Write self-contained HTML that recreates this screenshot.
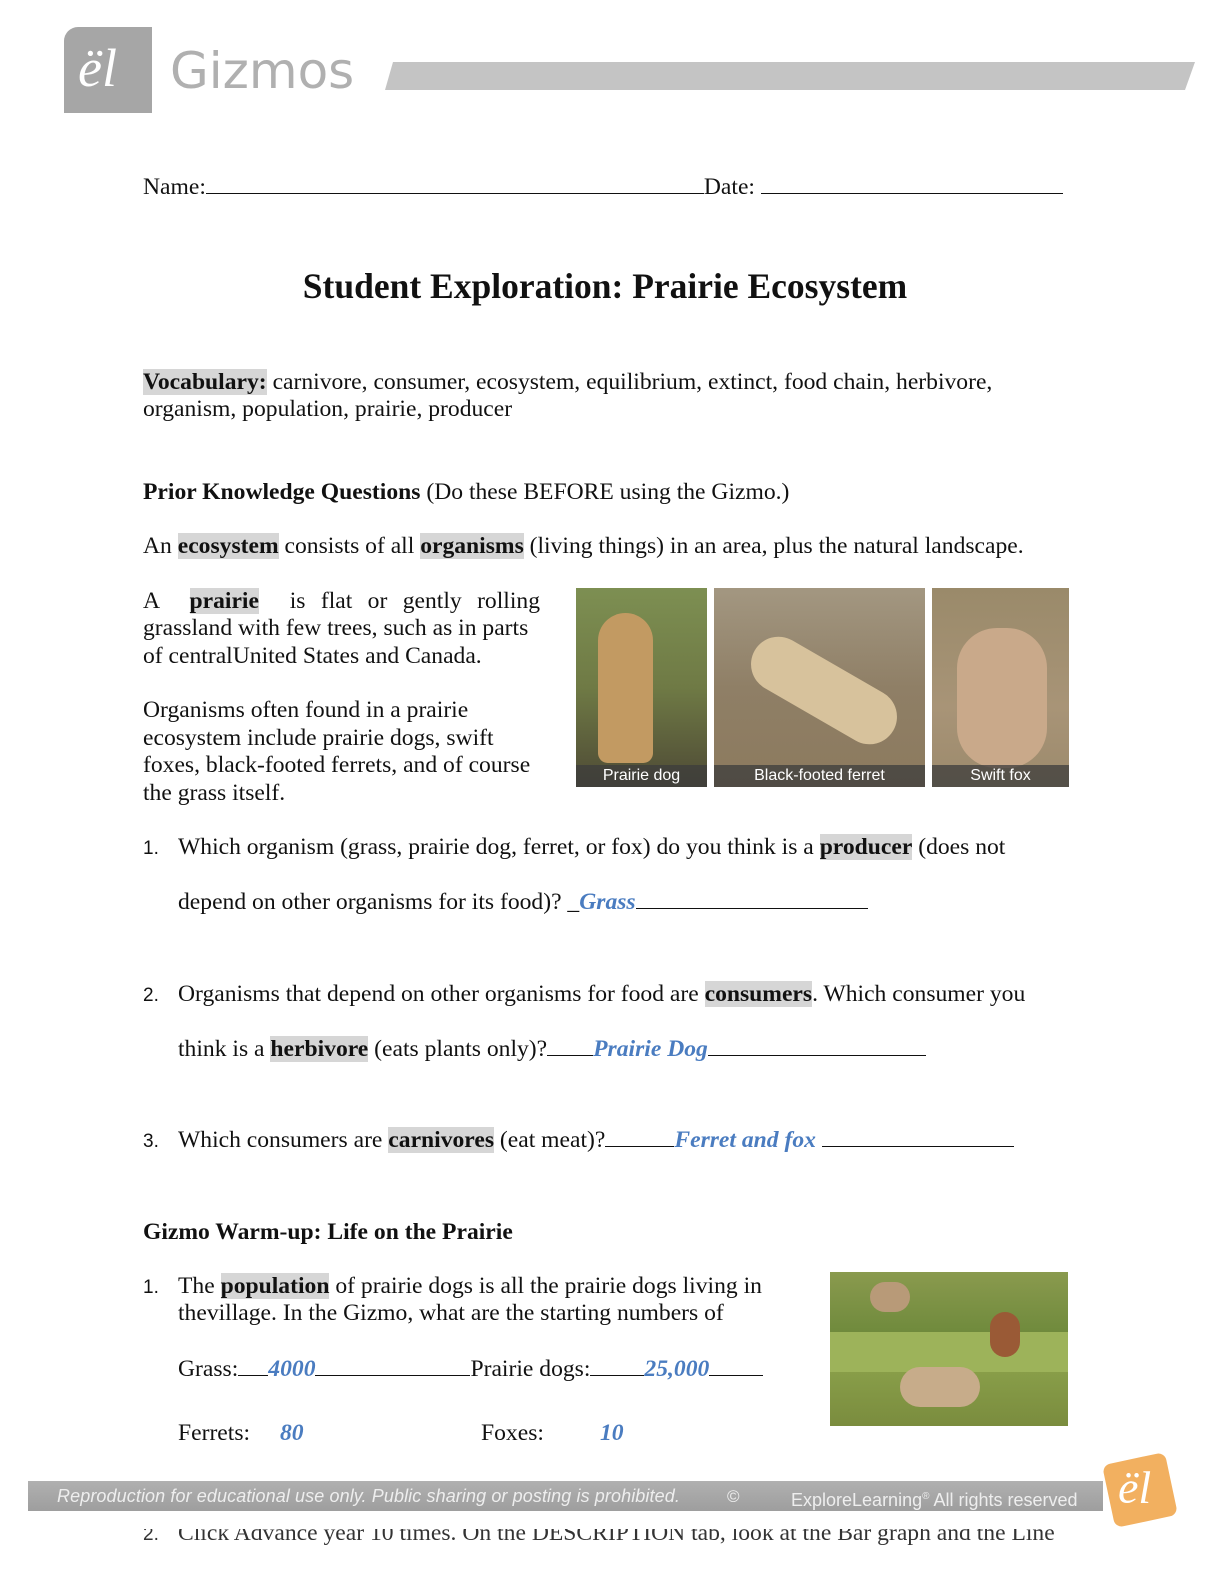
<!DOCTYPE html>
<html><head><meta charset="utf-8"><style>
body{margin:0;width:1224px;height:1584px;position:relative;background:#fff;font-family:"Liberation Serif",serif;font-size:23.6px;color:#111;overflow:hidden}
.t{position:absolute;white-space:nowrap;line-height:27px}
.h{background:#d6d6d6;font-weight:bold}
.a{color:#4a7cc0;font-style:italic;font-weight:bold}
.num{display:inline-block;width:35px;font-family:"Liberation Sans",sans-serif;font-size:19px}
.ph{position:absolute;overflow:hidden}
.cap{position:absolute;left:0;right:0;bottom:0;height:22px;background:rgba(60,60,60,.75);color:#fff;font-family:"Liberation Sans",sans-serif;font-size:16px;text-align:center;line-height:22px}
.ln{display:inline-block;border-bottom:1.5px solid #111;height:18px}
</style></head><body>
<div style="position:absolute;left:64px;top:27px;width:88px;height:86px;background:#a6a6a6;border-top-left-radius:14px"></div>
<div style="position:absolute;left:78px;top:38px;color:#fff;font-family:'Liberation Serif',serif;font-style:italic;font-size:54px;line-height:60px">ël</div>
<div style="position:absolute;left:170px;top:38px;color:#b0b0b0;font-family:'DejaVu Sans',sans-serif;font-size:50px;line-height:66px">Gizmos</div>
<svg style="position:absolute;left:385px;top:60px" width="812" height="32"><polygon points="8,2 810,2 800,30 0,30" fill="#c4c4c4"/></svg>

<div class="t" style="left:143px;top:173px">Name:<span class="ln" style="width:498px;height:20px"></span>Date: <span class="ln" style="width:302px;height:20px"></span></div>

<div class="t" style="left:0;width:1210px;text-align:center;top:266px;font-size:35.5px;font-weight:bold;line-height:40px">Student Exploration: Prairie Ecosystem</div>

<div class="t" style="left:143px;top:369px"><span class="h">Vocabulary:</span> carnivore, consumer, ecosystem, equilibrium, extinct, food chain, herbivore,</div>
<div class="t" style="left:143px;top:396px">organism, population, prairie, producer</div>

<div class="t" style="left:143px;top:479px"><b>Prior Knowledge Questions</b> (Do these BEFORE using the Gizmo.)</div>
<div class="t" style="left:143px;top:533px">An <span class="h">ecosystem</span> consists of all <span class="h">organisms</span> (living things) in an area, plus the natural landscape.</div>

<div class="t" style="left:143px;top:588px;width:397px;text-align:justify;text-align-last:justify">A &nbsp;<span class="h">prairie</span> &nbsp;is flat or gently rolling</div>
<div class="t" style="left:143px;top:615px">grassland with few trees, such as in parts</div>
<div class="t" style="left:143px;top:643px">of centralUnited States and Canada.</div>
<div class="t" style="left:143px;top:697px">Organisms often found in a prairie</div>
<div class="t" style="left:143px;top:725px">ecosystem include prairie dogs, swift</div>
<div class="t" style="left:143px;top:752px">foxes, black-footed ferrets, and of course</div>
<div class="t" style="left:143px;top:780px">the grass itself.</div>

<div class="ph" style="left:576px;top:588px;width:131px;height:199px;background:linear-gradient(#7d8f52,#6f7a45 50%,#4e4a35)">
<div style="position:absolute;left:22px;top:25px;width:55px;height:150px;border-radius:28px 28px 10px 10px;background:#c29a62"></div>
<div class="cap">Prairie dog</div></div>
<div class="ph" style="left:714px;top:588px;width:211px;height:199px;background:linear-gradient(#a39781,#8f7f66 50%,#8c7a5e)">
<div style="position:absolute;left:30px;top:75px;width:160px;height:55px;border-radius:30px;background:#d7c29c;transform:rotate(30deg)"></div>
<div class="cap">Black-footed ferret</div></div>
<div class="ph" style="left:932px;top:588px;width:137px;height:199px;background:linear-gradient(#9a8a6a,#a89477 60%,#9c8a6c)">
<div style="position:absolute;left:25px;top:40px;width:90px;height:140px;border-radius:40px;background:#c9a98a"></div>
<div class="cap">Swift fox</div></div>

<div class="t" style="left:143px;top:834px"><span class="num">1.</span>Which organism (grass, prairie dog, ferret, or fox) do you think is a <span class="h">producer</span> (does not</div>
<div class="t" style="left:178px;top:889px">depend on other organisms for its food)? _<span class="a">Grass</span><span class="ln" style="width:232px"></span></div>

<div class="t" style="left:143px;top:981px"><span class="num">2.</span>Organisms that depend on other organisms for food are <span class="h">consumers</span>. Which consumer you</div>
<div class="t" style="left:178px;top:1036px">think is a <span class="h">herbivore</span> (eats plants only)?<span class="ln" style="width:46px"></span><span class="a">Prairie Dog</span><span class="ln" style="width:218px"></span></div>

<div class="t" style="left:143px;top:1127px"><span class="num">3.</span>Which consumers are <span class="h">carnivores</span> (eat meat)?<span class="ln" style="width:69px"></span><span class="a">Ferret and fox</span> <span class="ln" style="width:192px"></span></div>

<div class="t" style="left:143px;top:1219px;font-weight:bold">Gizmo Warm-up: Life on the Prairie</div>
<div class="t" style="left:143px;top:1273px"><span class="num">1.</span>The <span class="h">population</span> of prairie dogs is all the prairie dogs living in</div>
<div class="t" style="left:178px;top:1300px">thevillage. In the Gizmo, what are the starting numbers of</div>
<div class="t" style="left:178px;top:1356px">Grass:<span class="ln" style="width:30px"></span><span class="a">4000</span><span class="ln" style="width:155px"></span>Prairie dogs:<span class="ln" style="width:54px"></span><span class="a">25,000</span><span class="ln" style="width:54px"></span></div>
<div class="t" style="left:178px;top:1420px">Ferrets:</div>
<div class="t a" style="left:280px;top:1420px">80</div>
<div class="t" style="left:481px;top:1420px">Foxes:</div>
<div class="t a" style="left:600px;top:1420px">10</div>

<div class="ph" style="left:830px;top:1272px;width:238px;height:154px;background:linear-gradient(#8a9a4e,#6f8a3c 40%,#8aa04a 60%,#7a8c3e)">
<div style="position:absolute;left:0;top:60px;width:238px;height:40px;background:#9db35a"></div>
<div style="position:absolute;left:40px;top:10px;width:40px;height:30px;border-radius:15px;background:#b89a78"></div>
<div style="position:absolute;left:160px;top:40px;width:30px;height:45px;border-radius:15px;background:#9a5a36"></div>
<div style="position:absolute;left:70px;top:95px;width:80px;height:40px;border-radius:20px;background:#c7ac8a"></div>
</div>

<div style="position:absolute;left:28px;top:1481px;width:1075px;height:30px;background:linear-gradient(#b0b0b0,#9e9e9e)"></div>
<div class="t" style="left:57px;top:1483px;color:#eee;font-family:'Liberation Sans',sans-serif;font-style:italic;font-size:18px;letter-spacing:0.1px">Reproduction for educational use only. Public sharing or posting is prohibited.</div>
<div class="t" style="left:727px;top:1483px;color:#eee;font-family:'Liberation Sans',sans-serif;font-size:17px">©</div>
<div class="t" style="left:791px;top:1483px;color:#eee;font-family:'Liberation Sans',sans-serif;font-size:18px">ExploreLearning<sup style="font-size:10px">®</sup> All rights reserved</div>
<div style="position:absolute;left:1108px;top:1458px;width:64px;height:64px;background:#f2b060;border-radius:8px;transform:rotate(-12deg)"></div>
<div style="position:absolute;left:1118px;top:1458px;color:#fff;font-style:italic;font-size:46px;line-height:60px">ël</div>
<div class="t" style="left:143px;top:1520px;color:#333;clip-path:inset(9px 0 0 0)"><span class="num">2.</span>Click Advance year 10 times. On the DESCRIPTION tab, look at the Bar graph and the Line</div>
</body></html>
